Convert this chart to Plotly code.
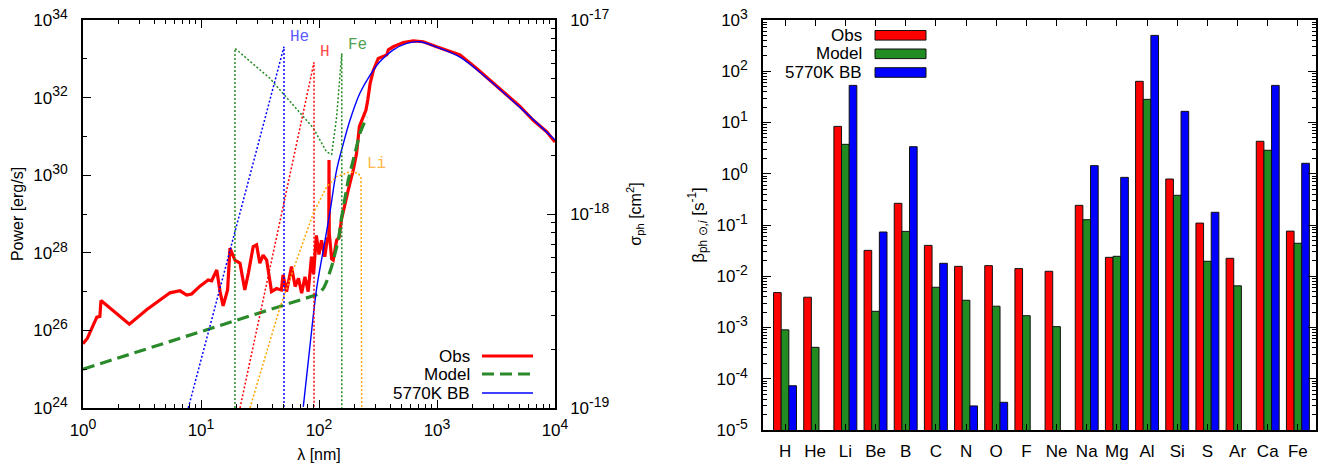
import math
import plotly.graph_objects as go

W, H = 1321, 466


def px(x):
    return x / W


def py(y):
    return 1 - y / H


# ---------------- left panel data ----------------
obs_wl = [1.0, 1.09, 1.31, 1.39, 1.42, 2.47, 3.46, 5.46, 6.63, 7.57, 8.33, 9.8, 11.5, 12.3,
          13.6, 14.5, 15.4, 16.8, 17.6, 19.4, 21.4, 23.5, 25.2, 27.7, 29.6, 31.5, 33.6, 36.0,
          39.6, 43.6, 48.0, 49.6, 53.1, 58.5, 62.8, 67.0, 71.3, 76.0, 81.0, 86.4, 90.0, 95.0,
          100.0, 105.0, 112.0, 118.0, 121.0, 121.6, 122.2, 128.0, 132.0, 141.0, 148.0, 155.0,
          161.0, 170.0, 177.0, 195.0, 208.0, 220.0, 234.0, 250.0, 259.0, 271.0, 289.0, 318.0,
          375.0, 387.0, 426.0, 518.0, 630.0, 765.0, 994.0, 1567.0, 2168.0, 2813.0, 3890.0,
          5050.0, 6540.0, 8500.0, 10000.0]
obs_pow = [4.5e25, 6.3e25, 2.2e26, 2.3e26, 5.9e26, 1.45e26, 3.4e26, 9.3e26, 1.05e27, 8.1e26,
           8.7e26, 1.38e27, 2.0e27, 1.9e27, 3.6e27, 1.0e27, 4.3e26, 1.1e27, 1.32e28, 6.5e27,
           5.4e27, 1.1e27, 3.0e27, 1.45e28, 1.6e28, 5.4e27, 8.7e27, 6.5e27, 1.0e27, 1.2e27,
           1.1e27, 2.7e27, 1.0e27, 4.4e27, 1.35e27, 2.2e27, 9.1e26, 2.4e27, 1.0e27, 7.9e27,
           2.8e27, 2.8e28, 9.0e27, 2.1e28, 7.9e27, 2.5e28, 2.0e28, 2.45e30, 3.2e28, 7.0e27,
           6.5e27, 2.1e28, 2.5e28, 7.1e28, 1.26e29, 2.5e29, 4.2e29, 1.35e30, 3.6e30, 1.8e31,
           3.0e31, 4.8e31, 8.7e31, 2.3e32, 5.1e32, 1.02e33, 1.26e33, 1.7e33, 2.04e33, 2.63e33,
           2.88e33, 2.75e33, 2.04e33, 1.26e33, 5.6e32, 2.8e32, 1.17e32, 5.9e31, 2.6e31,
           1.32e31, 7.2e30]

model_wl = [1.0, 84.0, 100.0, 110.0, 116.0, 128.0, 146.0, 155.0, 177.0, 195.0, 222.0, 254.0]
model_pow = [1.0e25, 7.4e26, 8.7e26, 1.26e27, 1.8e27, 4.4e27, 2.1e28, 7.9e28, 7.6e29,
             2.45e30, 1.2e31, 3.2e31]

bb_wl = [73.6, 84.0, 95.6, 108.7, 123.5, 141.0, 161.0, 183.0, 222.0, 271.0, 329.0, 426.0,
         554.0, 718.0, 994.0, 1567.0, 2637.0, 5050.0, 10000.0]
bb_pow = [1.07e24, 4.2e25, 1.23e27, 1.17e28, 1.07e29, 1.35e30, 6.6e30, 2.6e31, 1.29e32,
          3.8e32, 8.5e32, 1.7e33, 2.5e33, 2.75e33, 2.0e33, 1.1e33, 3.2e32, 5.6e31, 8.1e30]

# photo-ionisation cross sections (right axis)
he_wl = [7.8, 50.5, 50.5]
he_sig = [1.0e-19, 7.28e-18, 1.0e-19]
h_wl = [21.4, 90.7, 90.7]
h_sig = [1.0e-19, 6.05e-18, 1.0e-19]
fe_wl = [19.4, 19.4, 38.4, 89.5, 116.0, 128.0, 141.0, 148.6, 156.0, 156.0]
fe_sig = [1.0e-19, 7.14e-18, 5.0e-18, 2.77e-18, 2.09e-18, 2.03e-18, 3.16e-18, 4.72e-18,
          6.73e-18, 1.0e-19]
li_wl = [26.0, 46.7, 89.5, 116.0, 141.0, 183.0, 216.0, 227.0, 230.0]
li_sig = [1.0e-19, 3.3e-19, 1.01e-18, 1.38e-18, 1.56e-18, 1.65e-18, 1.62e-18, 1.53e-18,
          1.0e-19]

xs_labels = ["He", "H", "Fe", "Li"]
xs_label_wl = [69.0, 112.0, 214.0, 310.0]
xs_label_sig = [8.2e-18, 6.8e-18, 7.45e-18, 1.82e-18]
xs_label_colors = ["#5c5cff", "#ff4a4a", "#4f9f4f", "#ffb84d"]

x_tickvals = [1, 10, 100, 1000, 10000]
x_tickexp = ["0", "1", "2", "3", "4"]
p_tickvals = [1e24, 1e26, 1e28, 1e30, 1e32, 1e34]
p_tickexp = ["24", "26", "28", "30", "32", "34"]
s_tickvals = [1e-19, 1e-18, 1e-17]
s_tickexp = ["-19", "-18", "-17"]

# ---------------- right panel data ----------------
elements = ["H", "He", "Li", "Be", "B", "C", "N", "O", "F", "Ne", "Na", "Mg", "Al", "Si",
            "S", "Ar", "Ca", "Fe"]
beta_obs = [4.8e-3, 3.9e-3, 8.4, 0.032, 0.265, 0.040, 0.0156, 0.0161, 0.0141, 0.0125, 0.242,
            0.0234, 63.6, 0.79, 0.109, 0.0224, 4.3, 0.076]
beta_model = [9.0e-4, 4.1e-4, 3.75, 2.07e-3, 0.075, 6.1e-3, 3.4e-3, 2.6e-3, 1.7e-3, 1.04e-3,
              0.127, 0.0245, 28.3, 0.38, 0.0196, 6.5e-3, 2.87, 0.044]
beta_bb = [7.3e-5, None, 53.0, 0.073, 3.37, 0.0179, 2.95e-5, 3.47e-5, None, None, 1.44, 0.85,
           501.0, 16.5, 0.177, None, 53.0, 1.6]
b_tickvals = [1e-5, 1e-4, 1e-3, 1e-2, 1e-1, 1, 10, 100, 1000]
b_tickexp = ["-5", "-4", "-3", "-2", "-1", "0", "1", "2", "3"]

series_names = ["Obs", "Model", "5770K BB"]
RED, GREEN, BLUE = "#ff0000", "#228b22", "#0000ff"
FONT = "Liberation Sans, Arial, sans-serif"
TICK_SIZE = 17


def pow_label(e):
    return "10<sup><span style='font-size:14px'>%s</span></sup>" % e


def minor_vals(lo, hi):
    out = []
    for k in range(lo, hi):
        for m in range(2, 10):
            out.append(m * 10.0 ** k)
    return out


fig = go.Figure()

# cross sections (dotted)
for wl, sg, col in [(fe_wl, fe_sig, "#228b22"), (he_wl, he_sig, "#0000ff"),
                    (h_wl, h_sig, "#ff0000"), (li_wl, li_sig, "#ffa500")]:
    fig.add_trace(go.Scatter(x=wl, y=sg, xaxis="x", yaxis="y2", mode="lines",
                             line=dict(color=col, width=1.5, dash="2px,2px"),
                             showlegend=False, hoverinfo="skip"))

fig.add_trace(go.Scatter(x=obs_wl, y=obs_pow, xaxis="x", yaxis="y", mode="lines",
                         line=dict(color=RED, width=3.2), name="Obs", showlegend=False))
fig.add_trace(go.Scatter(x=model_wl, y=model_pow, xaxis="x", yaxis="y", mode="lines",
                         line=dict(color="#2a8a2a", width=3.2, dash="12px,6px"),
                         name="Model", showlegend=False))
fig.add_trace(go.Scatter(x=bb_wl, y=bb_pow, xaxis="x", yaxis="y", mode="lines",
                         line=dict(color=BLUE, width=1.4, shape="spline"),
                         name="5770K BB", showlegend=False))

for vals, col, nm in [(beta_obs, RED, "Obs"), (beta_model, GREEN, "Model"),
                      (beta_bb, BLUE, "5770K BB")]:
    fig.add_trace(go.Bar(x=elements, y=vals, xaxis="x2", yaxis="y3", name=nm,
                         marker=dict(color=col, line=dict(color="#111111", width=1)),
                         showlegend=False))

tickfont = dict(family=FONT, size=TICK_SIZE, color="black")
titlefont = dict(family=FONT, size=16, color="black")

common = dict(automargin=False, showgrid=False, zeroline=False, showline=True,
              linecolor="black", linewidth=1.5, tickcolor="black", tickfont=tickfont)

fig.update_layout(
    template="none",
    width=W, height=H,
    margin=dict(l=0, r=0, t=0, b=0),
    paper_bgcolor="white", plot_bgcolor="white",
    barmode="group", bargap=0.24, bargroupgap=0.0,
    font=dict(family=FONT, size=16, color="black"),
    xaxis=dict(type="log", range=[0, 4], domain=[px(83), px(555)], anchor="y",
               tickvals=x_tickvals, ticktext=[pow_label(e) for e in x_tickexp],
               ticks="inside", ticklen=8, ticklabelstandoff=6, mirror="ticks",
               minor=dict(tickvals=minor_vals(0, 4), ticks="inside", ticklen=4,
                          tickcolor="black", showgrid=False),
               title=dict(text="λ [nm]", font=titlefont, standoff=10), **common),
    yaxis=dict(type="log", range=[24, 34], domain=[py(408), py(20)], anchor="x",
               tickvals=p_tickvals, ticktext=[pow_label(e) for e in p_tickexp],
               ticks="inside", ticklen=8, ticklabelstandoff=10,
               minor=dict(tickvals=[1e25, 1e27, 1e29, 1e31, 1e33], ticks="inside",
                          ticklen=4, tickcolor="black", showgrid=False),
               title=dict(text="Power [erg/s]", font=titlefont, standoff=6), **common),
    yaxis2=dict(type="log", range=[-19, -17], overlaying="y", side="right", anchor="x",
                tickvals=s_tickvals, ticktext=[pow_label(e) for e in s_tickexp],
                ticks="inside", ticklen=8, ticklabelstandoff=10,
                minor=dict(tickvals=minor_vals(-19, -17), ticks="inside", ticklen=4,
                           tickcolor="black", showgrid=False),
                title=dict(text="σ<sub>ph</sub> [cm<sup>2</sup>]", font=titlefont,
                           standoff=21), **common),
    xaxis2=dict(type="category", range=[-0.73, 17.6], domain=[px(763), px(1316)],
                anchor="y3", ticks="inside", ticklen=6, ticklabelstandoff=5,
                mirror="ticks", **common),
    yaxis3=dict(type="log", range=[-5, 3], domain=[py(430), py(20)], anchor="x2",
                tickvals=b_tickvals, ticktext=[pow_label(e) for e in b_tickexp],
                ticks="inside", ticklen=8, ticklabelstandoff=10, mirror="ticks",
                minor=dict(tickvals=minor_vals(-5, 3), ticks="inside", ticklen=4,
                           tickcolor="black", showgrid=False),
                title=dict(text="β<sub>ph ⊙,<i>i</i></sub> [s<sup>-1</sup>]",
                           font=dict(family=FONT, size=17, color="black"), standoff=8),
                **common),
)

annotations = []
for lab, wl, sg, col in zip(xs_labels, xs_label_wl, xs_label_sig, xs_label_colors):
    annotations.append(dict(x=math.log10(wl), y=math.log10(sg), xref="x", yref="y2",
                            text=lab, showarrow=False, xanchor="center", yanchor="middle",
                            font=dict(family="Liberation Mono, Courier New, monospace",
                                      size=16, color=col)))

shapes = []
# left legend (text right-aligned, line sample on the right)
left_leg_y = [356, 374, 393]
left_leg_style = [dict(color=RED, width=3.2), dict(color="#2a8a2a", width=3.2, dash="12px,6px"),
                  dict(color=BLUE, width=1.4)]
for nm, yy, st in zip(series_names, left_leg_y, left_leg_style):
    annotations.append(dict(x=px(472), y=py(yy), xref="paper", yref="paper", text=nm,
                            showarrow=False, xanchor="right", yanchor="middle",
                            font=dict(family=FONT, size=17, color="black")))
    shapes.append(dict(type="line", xref="paper", yref="paper", x0=px(482), x1=px(533),
                       y0=py(yy), y1=py(yy), line=st))

# right legend (boxes)
right_leg_y = [35.3, 53.8, 72.5]
for nm, yy, col in zip(series_names, right_leg_y, [RED, GREEN, BLUE]):
    annotations.append(dict(x=px(864), y=py(yy), xref="paper", yref="paper", text=nm,
                            showarrow=False, xanchor="right", yanchor="middle",
                            font=dict(family=FONT, size=17, color="black")))
    shapes.append(dict(type="rect", xref="paper", yref="paper", x0=px(875), x1=px(926),
                       y0=py(yy + 4.8), y1=py(yy - 4.8), fillcolor=col,
                       line=dict(color="#111111", width=1)))

fig.update_layout(annotations=annotations, shapes=shapes)

fig.write_html("out.html")
